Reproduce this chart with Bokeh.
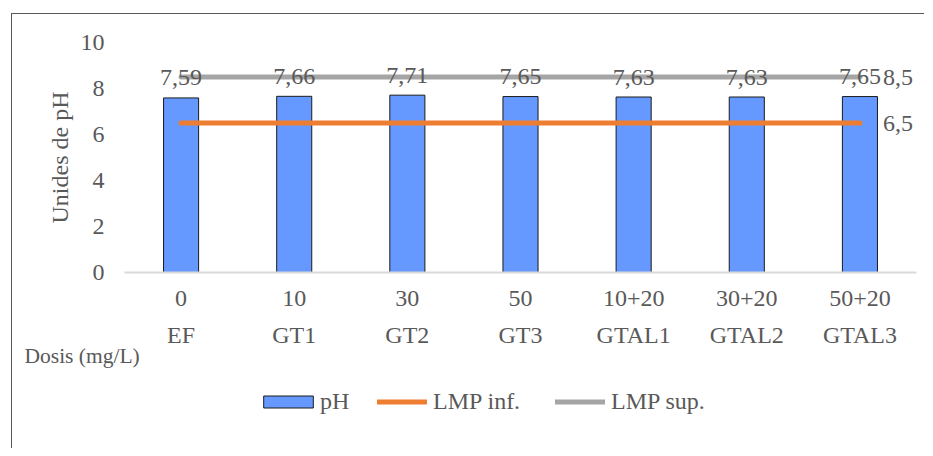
from bokeh.plotting import figure
from bokeh.layouts import column
from bokeh.models import (ColumnDataSource, FixedTicker, CategoricalAxis, Legend,
                          LegendItem, Title, FactorRange, Range1d)
from bokeh.core.properties import value
from bokeh.embed import file_html
from bokeh.resources import INLINE

# ---- data ----
groups = ["EF", "GT1", "GT2", "GT3", "GTAL1", "GTAL2", "GTAL3"]
doses = ["0", "10", "30", "50", "10+20", "30+20", "50+20"]
ph = [7.59, 7.66, 7.71, 7.65, 7.63, 7.63, 7.65]
lmp_inf = [6.5, 6.5, 6.5, 6.5, 6.5, 6.5, 6.5]
lmp_sup = [8.5, 8.5, 8.5, 8.5, 8.5, 8.5, 8.5]
y_ticks = [0, 2, 4, 6, 8, 10]

FONT = "Liberation Serif"
TXT = "#595959"
BAR_FILL = "#6699FF"
BAR_LINE = "#1a1a1a"
C_INF = "#ED7D31"
C_SUP = "#A5A5A5"


def fmt(v, nd):
    return f"{v:.{nd}f}".replace(".", ",")


src = ColumnDataSource(dict(d=doses, ph=ph, inf=lmp_inf, sup=lmp_sup,
                            lbl=[fmt(v, 2) for v in ph]))
end_src = ColumnDataSource(dict(d=[doses[-1], doses[-1]],
                                y=[lmp_sup[-1], lmp_inf[-1]],
                                t=[fmt(lmp_sup[-1], 1), fmt(lmp_inf[-1], 1)]))

p = figure(x_range=FactorRange(factors=doses), y_range=(0, 10), width=912, height=366,
           output_backend="svg", toolbar_location=None,
           min_border_left=112, min_border_right=8,
           min_border_top=28, min_border_bottom=108)
p.extra_x_ranges = {"names": FactorRange(factors=groups)}
p.outline_line_color = None
p.xgrid.visible = False
p.ygrid.visible = False
p.background_fill_color = "white"
p.border_fill_color = "white"

p.vbar(x="d", top="ph", width=0.31, source=src,
       fill_color=BAR_FILL, line_color=BAR_LINE, line_width=1)
p.line(x="d", y="inf", source=src, line_color=C_INF, line_width=5, line_cap="round")
p.line(x="d", y="sup", source=src, line_color=C_SUP, line_width=5, line_cap="round")

p.text(x="d", y="ph", text="lbl", source=src, text_align="center",
       text_baseline="alphabetic", y_offset=-20,
       text_font=value(FONT), text_font_size="24px", text_color=TXT)
p.text(x="d", y="y", text="t", source=end_src, text_align="left",
       text_baseline="middle", x_offset=23,
       text_font=value(FONT), text_font_size="24px", text_color=TXT)

# y axis
ya = p.yaxis[0]
ya.ticker = FixedTicker(ticks=y_ticks)
ya.axis_line_color = None
ya.major_tick_line_color = None
ya.minor_tick_line_color = None
ya.major_tick_out = 0
ya.major_tick_in = 0
ya.major_label_standoff = 20
ya.major_label_text_font = FONT
ya.major_label_text_font_size = "24px"
ya.major_label_text_color = TXT
ya.axis_label = "Unides de pH"
ya.axis_label_text_font = FONT
ya.axis_label_text_font_size = "24px"
ya.axis_label_text_font_style = "normal"
ya.axis_label_text_color = TXT
ya.axis_label_standoff = 5

# x axis, first line: doses
xa = p.xaxis[0]
xa.axis_line_color = "#D9D9D9"
xa.axis_line_width = 2
xa.major_tick_line_color = None
xa.minor_tick_line_color = None
xa.major_tick_out = 0
xa.major_tick_in = 0
xa.major_label_standoff = 18
xa.major_label_text_font = FONT
xa.major_label_text_font_size = "24px"
xa.major_label_text_color = TXT

# x axis, second line: treatment names
xa2 = CategoricalAxis(x_range_name="names")
xa2.axis_line_color = None
xa2.major_tick_line_color = None
xa2.minor_tick_line_color = None
xa2.major_tick_out = 0
xa2.major_tick_in = 0
xa2.major_label_standoff = 13
xa2.major_label_text_font = FONT
xa2.major_label_text_font_size = "24px"
xa2.major_label_text_color = TXT
p.add_layout(xa2, "below")

p.add_layout(Title(text="Dosis (mg/L)", align="left", offset=-100, standoff=-17,
                   text_font=FONT, text_font_size="21.5px", text_font_style="normal",
                   text_color=TXT), "below")

# ---- legend strip (glyphs kept out of its view, only the legend shows) ----
pl = figure(width=912, height=68, output_backend="svg", toolbar_location=None,
            x_range=FactorRange(factors=doses), y_range=Range1d(100, 110),
            min_border=0, x_axis_location=None, y_axis_location=None)
pl.outline_line_color = None
pl.xgrid.visible = False
pl.ygrid.visible = False
pl.border_fill_color = "white"
pl.background_fill_color = "white"
r_bar = pl.vbar(x="d", top="ph", width=0.31, source=src, fill_color=BAR_FILL,
                line_color=BAR_LINE, line_width=1)
r_inf = pl.line(x="d", y="inf", source=src, line_color=C_INF, line_width=5,
                line_cap="round")
r_sup = pl.line(x="d", y="sup", source=src, line_color=C_SUP, line_width=5,
                line_cap="round")


def mk_legend(item, loc, gw, gh, standoff):
    lg = Legend(items=[item], location=loc, orientation="horizontal",
                glyph_width=gw, glyph_height=gh, label_standoff=standoff,
                padding=0, margin=0, spacing=0,
                border_line_alpha=0, background_fill_alpha=0,
                label_text_font=FONT, label_text_font_size="24px",
                label_text_color=TXT)
    pl.add_layout(lg, "center")


mk_legend(LegendItem(label="pH", renderers=[r_bar]), (133, 33), 62, 15, 1)
mk_legend(LegendItem(label="LMP inf.", renderers=[r_inf]), (253, 33), 50, 15, 6)
mk_legend(LegendItem(label="LMP sup.", renderers=[r_sup]), (431, 33), 50, 15, 6)

layout = column(p, pl, spacing=0)
layout.styles = {"margin-left": "11px", "margin-top": "13px",
                 "border-left": "1px solid #595959", "border-top": "1px solid #595959"}

open("out.html", "w").write(file_html(layout, INLINE))
